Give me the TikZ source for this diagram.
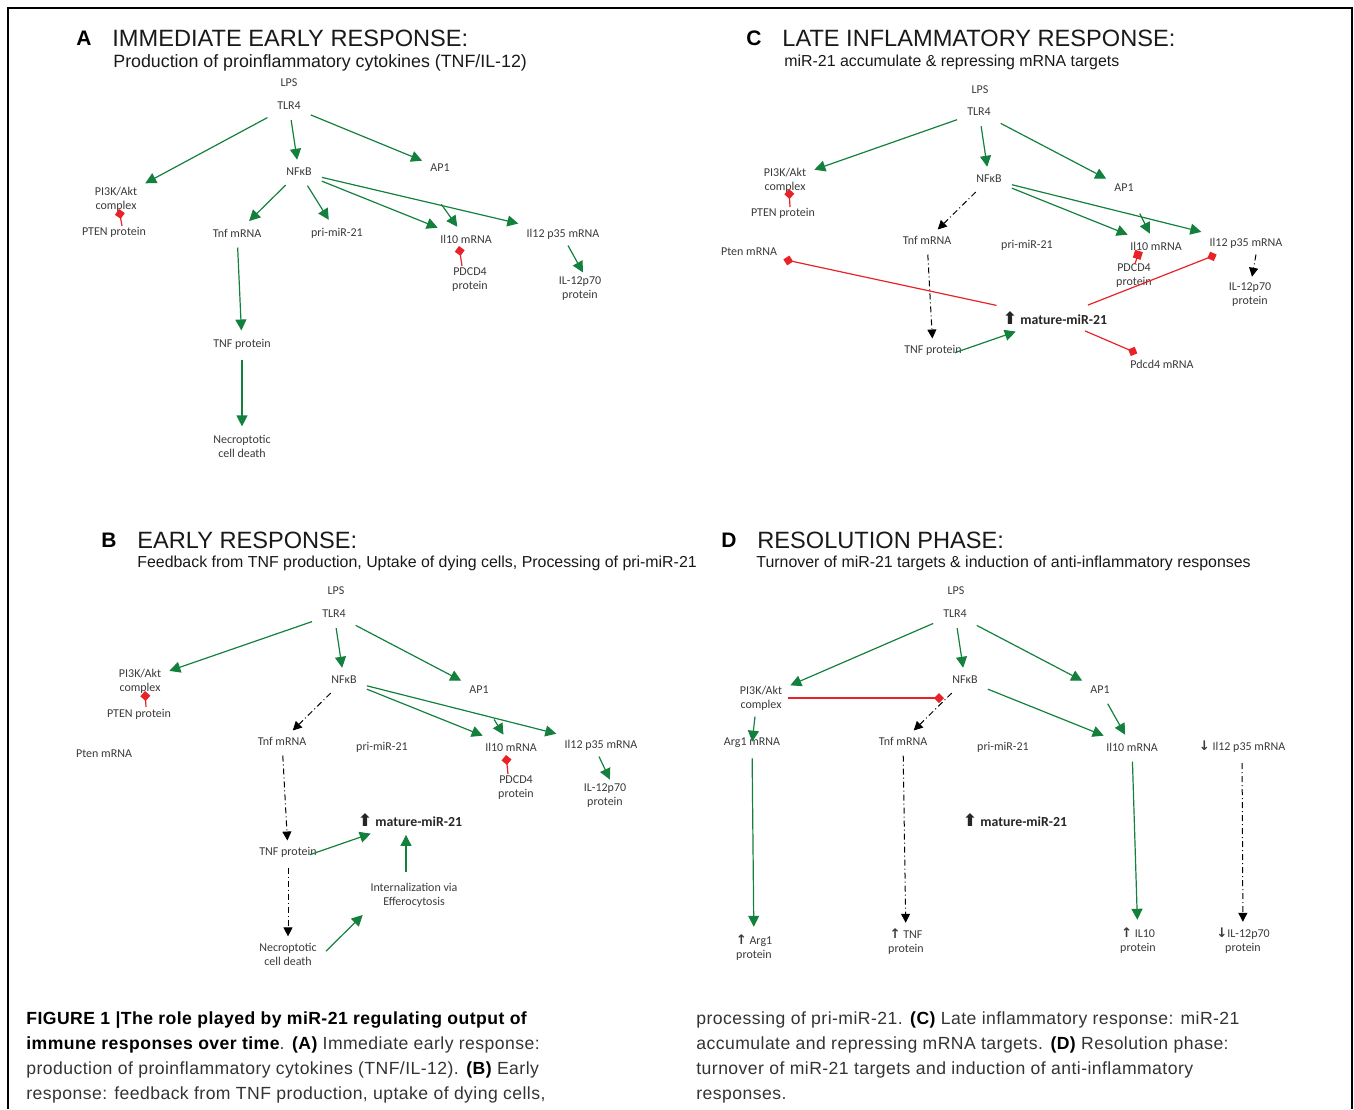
\documentclass[tikz,border=0pt]{standalone}
\usepackage{fontspec}
\setmainfont{Carlito}
\newfontfamily\arial{Liberation Sans}
\newfontfamily\capfont[LetterSpace=2.5]{Liberation Sans}
\newfontfamily\dejavu{DejaVu Sans}
\usetikzlibrary{arrows.meta}
\definecolor{actgreen}{RGB}{20,128,62}
\definecolor{inhred}{RGB}{232,34,38}
\definecolor{labgray}{RGB}{58,58,58}
\newcommand{\upar}{{\dejavu\bfseries\fontsize{6.6}{7}\selectfont ↑}}
\newcommand{\downar}{{\dejavu\bfseries\fontsize{6.6}{7}\selectfont ↓}}
\newcommand{\bigup}{{\dejavu\fontsize{8.6}{8}\selectfont ⬆}}
\begin{document}
\begin{tikzpicture}[x=0.5pt,y=-0.5pt,
    lab/.style={text=labgray,font=\fontsize{6}{7}\selectfont,align=center,inner sep=3pt},
    mir/.style={text=black!85,font=\bfseries\fontsize{6.9}{8}\selectfont,inner sep=3pt},
    letter/.style={font=\arial\bfseries\fontsize{10.5}{12}\selectfont,inner sep=0pt},
    head/.style={anchor=west,text=black!90,font=\arial\fontsize{11.8}{13}\selectfont,inner sep=0pt},
    subhead/.style={anchor=west,text=black!90,font=\arial\fontsize{#1}{10}\selectfont,inner sep=0pt},
    subhead/.default=7.95,
    capbox/.style={anchor=north west,align=left,inner sep=0pt,text=black!80,font=\capfont\fontsize{8.8}{12.5}\selectfont},
    act/.style={actgreen,line width=0.6pt,-{Triangle[length=5.5pt,width=5.5pt]},shorten <=2pt,shorten >=1pt},
    dd/.style={black,line width=0.5pt,dash pattern=on 3pt off 1.5pt on 0.5pt off 1.5pt,-{Triangle[length=4.5pt,width=4.5pt]},shorten <=2pt},
    inh/.style={inhred,line width=0.6pt,-{Diamond[length=5pt,width=5pt]}}]
  \useasboundingbox (0,0) rectangle (1354,1109);
  \draw[line width=1pt] (8,1109) -- (8,8) -- (1352,8) -- (1352,1109);

  % panel A
  \node[letter] (letA) at (84,38) {A};
  \node[head] (headA) at (112,38) {IMMEDIATE EARLY RESPONSE:};
  \node[subhead=8.9] (subA) at (113,63) {Production of proinflammatory cytokines (TNF/IL-12)};
  \draw
    (289,83) node[lab] (lpsA){LPS}
    (289,106) node[lab] (tlrA){TLR4}
    (299,172) node[lab] (nfA){NFκB}
    (440,168) node[lab] (apA){AP1}
    (116,199) node[lab] (piA){PI3K/Akt\\complex}
    (114,232) node[lab] (ptenA){PTEN protein}
    (237,233) node[lab] (tnfA){Tnf mRNA}
    (337,233) node[lab] (priA){pri-miR-21}
    (466,239) node[lab] (ilxA){Il10 mRNA}
    (563,234) node[lab] (ilxiiA){Il12 p35 mRNA}
    (470,280) node[lab] (pdA){PDCD4\\protein}
    (580,289) node[lab] (ilpA){IL-12p70\\protein}
    (242,344) node[lab] (tnfpA){TNF protein}
    (242,446) node[lab] (necA){Necroptotic\\cell death};
  \coordinate (apilA) at (439,201);
  \begin{scope}[act]
    \draw (tlrA) to (piA);
    \draw (tlrA) to (nfA);
    \draw (tlrA) to (apA);
    \draw (nfA) to (tnfA);
    \draw (nfA) to (priA);
    \draw (nfA) to (ilxA);
    \draw (apilA) to (ilxA);
    \draw (nfA) to (ilxiiA);
    \draw[shorten <=0pt,shorten >=-1pt] ([xshift=2.5pt]ilxiiA.south) to ([xshift=1pt]ilpA.north);
    \draw (tnfA) to (tnfpA);
    \draw (tnfpA) to (necA);
  \end{scope}
  \begin{scope}[inh]
    \draw ([xshift=4pt,yshift=3pt]ptenA.center) to ([xshift=1.5pt,yshift=-5pt]piA.center);
    \draw ([xshift=-4pt,yshift=7pt]pdA.center) to ([xshift=-3.5pt,yshift=-3.5pt]ilxA.center);
  \end{scope}

  % panel B
  \node[letter] (letB) at (109,540) {B};
  \node[head] (headB) at (137,540) {EARLY RESPONSE:};
  \node[subhead] (subB) at (137,563) {Feedback from TNF production, Uptake of dying cells, Processing of pri-miR-21};
  \draw
    (336,591) node[lab] (lpsB){LPS}
    (334,614) node[lab] (tlrB){TLR4}
    (344,680) node[lab] (nfB){NFκB}
    (479,690) node[lab] (apB){AP1}
    (140,681) node[lab] (piB){PI3K/Akt\\complex}
    (139,714) node[lab] (ptenB){PTEN protein}
    (104,754) node[lab] (ptmB){Pten mRNA}
    (282,741) node[lab] (tnfB){Tnf mRNA}
    (382,747) node[lab] (priB){pri-miR-21}
    (511,747) node[lab] (ilxB){Il10 mRNA}
    (601,745) node[lab] (ilxiiB){Il12 p35 mRNA}
    (516,788) node[lab] (pdB){PDCD4\\protein}
    (605,796) node[lab] (ilpB){IL-12p70\\protein}
    (410,820) node[mir] (matB){\bigup\ mature-miR-21}
    (288,852) node[lab] (tnfpB){TNF protein}
    (414,895) node[lab] (intB){Internalization via\\Efferocytosis}
    (288,954) node[lab] (necB){Necroptotic\\cell death};
  \coordinate (apilB) at (492,716);
  \begin{scope}[act]
    \draw (tlrB) to (piB);
    \draw (tlrB) to (nfB);
    \draw (tlrB) to (apB);
    \draw (nfB) to (ilxB);
    \draw (apilB) to (ilxB);
    \draw (nfB) to (ilxiiB);
    \draw[shorten <=0pt,shorten >=-1pt] ([xshift=-1pt]ilxiiB.south) to ([xshift=2pt]ilpB.north);
    \draw ([xshift=9pt,yshift=-2pt]tnfpB.center) to (matB);
    \draw ([xshift=-4pt]intB.north) to ([xshift=-2pt]matB.south);
    \draw (necB.east) to (intB.south west);
  \end{scope}
  \begin{scope}[dd]
    \draw (nfB) to (tnfB);
    \draw (tnfB) to (tnfpB);
    \draw (tnfpB) to (necB);
  \end{scope}
  \begin{scope}[inh]
    \draw ([xshift=3.5pt,yshift=3.5pt]ptenB.center) to ([xshift=2.5pt,yshift=-5pt]piB.center);
    \draw ([xshift=-4pt,yshift=7pt]pdB.center) to ([xshift=-2.5pt,yshift=-4pt]ilxB.center);
  \end{scope}

  % panel C
  \node[letter] (letC) at (754,38) {C};
  \node[head] (headC) at (782,38) {LATE INFLAMMATORY RESPONSE:};
  \node[subhead] (subC) at (784,62) {miR-21 accumulate \& repressing mRNA targets};
  \draw
    (980,90) node[lab] (lpsC){LPS}
    (979,112) node[lab] (tlrC){TLR4}
    (989,179) node[lab] (nfC){NFκB}
    (1124,188) node[lab] (apC){AP1}
    (785,180) node[lab] (piC){PI3K/Akt\\complex}
    (783,213) node[lab] (ptenC){PTEN protein}
    (749,252) node[lab] (ptmC){Pten mRNA}
    (927,240) node[lab] (tnfC){Tnf mRNA}
    (1027,245) node[lab] (priC){pri-miR-21}
    (1156,246) node[lab] (ilxC){Il10 mRNA}
    (1246,243) node[lab] (ilxiiC){Il12 p35 mRNA}
    (1134,276) node[lab] (pdC){PDCD4\\protein}
    (1250,295) node[lab] (ilpC){IL-12p70\\protein}
    (1055,318) node[mir] (matC){\bigup\ mature-miR-21}
    (933,350) node[lab] (tnfpC){TNF protein}
    (1162,364) node[lab] (pdmC){Pdcd4 mRNA};
  \coordinate (apilC) at (1138,210);
  \begin{scope}[act]
    \draw (tlrC) to (piC);
    \draw (tlrC) to (nfC);
    \draw (tlrC) to (apC);
    \draw (nfC) to (ilxC);
    \draw (apilC) to (ilxC);
    \draw (nfC) to (ilxiiC);
    \draw ([xshift=9pt,yshift=-2pt]tnfpC.center) to (matC);
  \end{scope}
  \begin{scope}[dd]
    \draw (nfC) to (tnfC);
    \draw (tnfC) to (tnfpC);
    \draw[shorten <=0pt] ([xshift=5pt]ilxiiC.south) to ([xshift=1pt]ilpC.north);
  \end{scope}
  \begin{scope}[inh]
    \draw ([xshift=3.5pt,yshift=3pt]ptenC.center) to ([xshift=2pt,yshift=-4.5pt]piC.center);
    \draw[-{Square[length=4pt,width=4pt]}] ([xshift=0.5pt,yshift=6pt]pdC.center) to ([xshift=-8.5pt,yshift=-2.5pt]ilxC.center);
    \draw (matC) to (ptmC);
    \draw (matC) to (ilxiiC);
    \draw (matC) to (pdmC);
  \end{scope}

  % panel D
  \node[letter] (letD) at (729,540) {D};
  \node[head] (headD) at (757,540) {RESOLUTION PHASE:};
  \node[subhead] (subD) at (756,563) {Turnover of miR-21 targets \& induction of anti-inflammatory responses};
  \draw
    (956,591) node[lab] (lpsD){LPS}
    (955,614) node[lab] (tlrD){TLR4}
    (965,680) node[lab] (nfD){NFκB}
    (1100,690) node[lab] (apD){AP1}
    (761,698) node[lab] (piD){PI3K/Akt\\complex}
    (752,743) node[lab] (argD){Arg1 mRNA}
    (903,741) node[lab] (tnfD){Tnf mRNA}
    (1003,747) node[lab] (priD){pri-miR-21}
    (1132,747) node[lab] (ilxD){Il10 mRNA}
    (1242,747) node[lab] (ilxiiD){\downar\ Il12 p35 mRNA}
    (1015,820) node[mir] (matD){\bigup\ mature-miR-21}
    (754,948) node[lab] (argpD){\upar\ Arg1\\protein}
    (906,942) node[lab] (tnfpD){\upar\ TNF\\protein}
    (1138,941) node[lab] (ilpxD){\upar\ IL10\\protein}
    (1243,941) node[lab] (ilpD){\downar IL-12p70\\protein};
  \coordinate (tnfhitD) at (944,698);
  \begin{scope}[act]
    \draw (tlrD) to (piD);
    \draw (tlrD) to (nfD);
    \draw (tlrD) to (apD);
    \draw (nfD) to (ilxD);
    \draw (apD) to (ilxD);
    \draw[shorten <=0pt,shorten >=-5pt] ([xshift=-3pt]piD.south) to (argD);
    \draw (argD) to (argpD);
    \draw (ilxD) to (ilpxD);
  \end{scope}
  \begin{scope}[dd]
    \draw (nfD) to (tnfD);
    \draw (tnfD) to (tnfpD);
    \draw (ilxiiD) to (ilpD);
  \end{scope}
  \begin{scope}[inh]
    \draw (piD) to (tnfhitD);
  \end{scope}

  % caption
  \node[capbox] (capL) at (26,1011) {\textbf{\color{black}FIGURE 1 |The role played by miR-21 regulating output of}\\
    \textbf{\color{black}immune responses over time}. \textbf{\color{black}(A)} Immediate early response:\\
    production of proinflammatory cytokines (TNF/IL-12). \textbf{\color{black}(B)} Early\\
    response: feedback from TNF production, uptake of dying cells,};
  \node[capbox] (capR) at (696,1011) {processing of pri-miR-21. \textbf{\color{black}(C)} Late inflammatory response: miR-21\\
    accumulate and repressing mRNA targets. \textbf{\color{black}(D)} Resolution phase:\\
    turnover of miR-21 targets and induction of anti-inflammatory\\
    responses.};
\end{tikzpicture}
\end{document}
